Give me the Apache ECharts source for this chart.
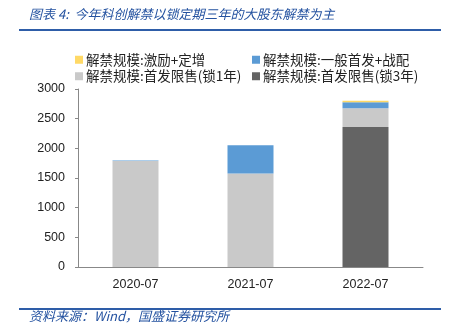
<!DOCTYPE html>
<html>
<head>
<meta charset="utf-8">
<script src="https://cdn.jsdelivr.net/npm/echarts@6/dist/echarts.min.js"></script>
<style>html,body{margin:0;padding:0;background:#fff;}#c{width:454px;height:335px;}</style>
</head>
<body>
<div id="c"></div>
<script>
const categories = ['2020-07', '2021-07', '2022-07'];
const lock3Y = [0, 0, 2360];        // 解禁规模:首发限售(锁3年)
const lock1Y = [1788, 1574, 314];   // 解禁规模:首发限售(锁1年)
const ipoPlacement = [5, 478, 101]; // 解禁规模:一般首发+战配
const incentive = [0, 0, 27];        // 解禁规模:激励+定增
const yTicks = [0, 500, 1000, 1500, 2000, 2500, 3000];

const names = ['解禁规模:激励+定增', '解禁规模:一般首发+战配', '解禁规模:首发限售(锁1年)', '解禁规模:首发限售(锁3年)'];
const colors = ['#FFD966', '#5B9BD5', '#C9C9C9', '#646464'];
const cjk = '"Noto Sans CJK SC", sans-serif';
const blue = '#2452A0';

const chart = echarts.init(document.getElementById('c'));
const legendCommon = {
  orient: 'vertical', top: 48, itemWidth: 8, itemHeight: 8, itemGap: 3,
  icon: 'rect',
  textStyle: {fontFamily: cjk, fontSize: 13.5, color: '#222', padding: [0, 0, 0, -2]}
};
function mk(i, data) {
  return {name: names[i], type: 'bar', stack: 'a', barWidth: '40%', data: data,
    itemStyle: {color: colors[i]}};
}
chart.setOption({
  animation: false,
  grid: {left: 78, right: 31, top: 89, bottom: 68},
  legend: [
    Object.assign({left: 70, data: [names[0], names[2]]}, legendCommon),
    Object.assign({left: 247, data: [names[1], names[3]]}, legendCommon)
  ],
  graphic: [
    {type: 'text', left: 29, top: 8, style: {text: '图表 4:  今年科创解禁以锁定期三年的大股东解禁为主', fill: blue, font: 'italic 13px "Noto Sans CJK SC"'}},
    {type: 'rect', shape: {x: 19, y: 29, width: 422, height: 2}, style: {fill: '#2E5DA8'}},
    {type: 'rect', shape: {x: 19, y: 308, width: 422, height: 2}, style: {fill: '#2E5DA8'}},
    {type: 'text', left: 29, top: 310, style: {text: '资料来源：Wind，国盛证券研究所', fill: blue, font: 'italic 13px "Noto Sans CJK SC"'}}
  ],
  xAxis: {
    type: 'category', data: categories,
    axisLine: {lineStyle: {color: '#888'}},
    axisTick: {inside: true, length: 4, lineStyle: {color: '#888'}},
    axisLabel: {fontFamily: 'Liberation Sans', fontSize: 12.5, color: '#222', margin: 11}
  },
  yAxis: {
    type: 'value', min: yTicks[0], max: yTicks[yTicks.length - 1], interval: 500,
    axisLine: {show: true, lineStyle: {color: '#888'}},
    axisTick: {show: true, length: 3, lineStyle: {color: '#888'}},
    splitLine: {show: false},
    axisLabel: {fontFamily: 'Liberation Sans', fontSize: 12.5, color: '#222', margin: 13,
      formatter: function (v) { return String(v); }}
  },
  series: [
    mk(3, lock3Y),
    mk(2, lock1Y),
    mk(1, ipoPlacement),
    mk(0, incentive)
  ]
});
</script>
</body>
</html>
